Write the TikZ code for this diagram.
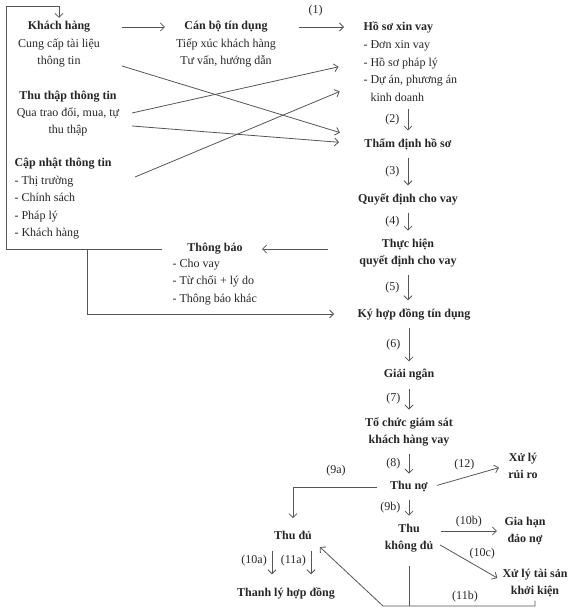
\documentclass[tikz,border=0pt]{standalone}
\usepackage{fontspec}
\setmainfont{Liberation Serif}
\usetikzlibrary{arrows.meta}
\definecolor{ink}{HTML}{262626}
\definecolor{wire}{HTML}{555555}
\newcommand\txtsize{\fontsize{12}{17.5}\selectfont}
\tikzset{
  head/.style={font=\txtsize\bfseries,text=ink},
  body/.style={font=\txtsize,align=center,text=ink},
  lst/.style={font=\txtsize,align=left,text=ink},
  lbl/.style={font=\txtsize,text=ink},
  ln/.style={draw=wire,line width=.8pt},
  arr/.style={ln,-{Straight Barb[length=4pt,width=8pt]}},
  harr/.style={arr,shorten <=28pt,shorten >=16pt},
  varr/.style={arr,shorten <=4.5pt,shorten >=4.5pt}
}

\begin{document}
\begin{tikzpicture}[x=1pt,y=-1pt]
  \useasboundingbox (0,0) rectangle (579,615);
  \node[head] (kh) at (59,27) {Khách hàng};
  \node[body] (khb) at (59,53) {Cung cấp tài liệu\\thông tin};
  \node[head] (tt) at (68,97) {Thu thập thông tin};
  \node[body] (ttb) at (68,122) {Qua trao đổi, mua, tự\\thu thập};
  \node[head,anchor=west] (cn) at (11,164) {Cập nhật thông tin};
  \node[lst,anchor=west] (cnb) at (11,207.5) {- Thị trường\\- Chính sách\\- Pháp lý\\- Khách hàng};
  \node[head] (cb) at (226,27) {Cán bộ tín dụng};
  \node[body] (cbb) at (226,53) {Tiếp xúc khách hàng\\Tư vấn, hướng dẫn};
  \node[head,anchor=west] (hs) at (360,27) {Hồ sơ xin vay};
  \node[lst,anchor=west] (hsb) at (360,71) {- Đơn xin vay\\- Hồ sơ pháp lý\\- Dự án, phương án\\\hspace*{7pt}kinh doanh};
  \node[head] (tdh) at (408,144) {Thẩm định hồ sơ};
  \node[head] (qd) at (408,199) {Quyết định cho vay};
  \node[head,align=center] (th) at (408,253) {Thực hiện\\quyết định cho vay};
  \node[head] (tb) at (215,249) {Thông báo};
  \node[lst,anchor=west] (tbb) at (169,282) {- Cho vay\\- Từ chối + lý do\\- Thông báo khác};
  \node[head] (ky) at (414,314) {Ký hợp đồng tín dụng};
  \node[head] (gn) at (409,375) {Giải ngân};
  \node[head,align=center] (gs) at (409,432) {Tổ chức giám sát\\khách hàng vay};
  \node[head] (tn) at (409,487) {Thu nợ};
  \node[head,align=center] (tk) at (409,538) {Thu\\không đủ};
  \node[head,align=center] (rr) at (523,466) {Xử lý\\rủi ro};
  \node[head,align=center] (gh) at (525,531) {Gia hạn\\đảo nợ};
  \node[head,align=center] (kk) at (535,583) {Xử lý tài sản\\khởi kiện};
  \node[head] (du) at (293,535) {Thu đủ};
  \node[head] (tl) at (286,593) {Thanh lý hợp đồng};

  \coordinate (jn) at (87,249);
  \coordinate (khOut) at (122,66);
  \coordinate (ttOut1) at (132,113);
  \coordinate (ttOut2) at (132,126);
  \coordinate (cnOut) at (135,177);
  \coordinate (b11) at (383,606);

  \draw[arr] ([xshift=-22pt]tb.west) -| (6,6) -| (kh.north);
  \draw[arr,shorten >=20pt] (jn) |- (ky.west);
  \draw[harr] (kh) -- (cb);
  \draw[harr] (cb) -- node[lbl,above=7pt] (l1) {(1)} (hs);
  \draw[harr] (th.west |- tb) -- (tb);

  \draw[arr,shorten >=22pt] (khOut) -- ([yshift=5pt]tdh.west);
  \draw[arr,shorten >=22pt] (ttOut1) -- ([yshift=9pt]hsb.west);
  \draw[arr,shorten >=22pt] (ttOut2) -- (tdh.west);
  \draw[arr,shorten >=22pt] (cnOut) -- ([yshift=-12pt]hsb.west);

  \draw[varr] (hsb.south -| tdh) -- node[lbl,left=5pt] (l2) {(2)} (tdh);
  \draw[varr] (tdh) -- node[lbl,left=5pt] (l3) {(3)} (qd);
  \draw[varr] (qd) -- node[lbl,left=5pt] (l4) {(4)} (th);
  \draw[varr] (th.south) -- node[lbl,left=5pt] (l5) {(5)} (th.south |- ky.north);
  \draw[varr] (ky.south -| gn) -- node[lbl,left=5pt] (l6) {(6)} (gn);
  \draw[varr] (gn) -- node[lbl,left=5pt] (l7) {(7)} (gs);
  \draw[varr] (gs) -- node[lbl,left=5pt] (l8) {(8)} (tn);
  \draw[varr] (tn) -- node[lbl,left=5pt] (l9b) {(9b)} (tk);

  \draw[arr,shorten <=10pt,shorten >=9pt] (tn.west) -| node[lbl,pos=0.27,above=7pt] (l9a) {(9a)} (du.north);
  \draw[arr,shorten <=6pt,shorten >=6pt] (tn.east) -- node[lbl,pos=0.45,above=4pt] (l12) {(12)} (rr.west);
  \draw[arr,shorten <=4pt,shorten >=4pt] (tk.east |- gh) -- node[lbl,above] (l10b) {(10b)} (gh.west);
  \draw[arr,shorten <=4pt,shorten >=2pt] ([yshift=-5pt]tk.east) -- node[lbl,midway,above right=-2pt] (l10c) {(10c)} ([yshift=4pt]kk.west);

  \draw[ln,shorten <=10pt] (tk.south) -- (tk.south |- b11);
  \draw[arr,shorten >=6pt] (kk.south) |- (b11) -- (du.south east);
  \node[lbl] (l11b) at (465,597) {(11b)};

  \foreach \dx/\lab/\nm in {-21/(10a)/l10a,18/(11a)/l11a}
    \draw[varr,shorten <=8pt] ([xshift=\dx pt]du.south) -- ++(0,36) node[lbl,midway,left=1.5pt] (\nm) {\lab};
\end{tikzpicture}
\end{document}
